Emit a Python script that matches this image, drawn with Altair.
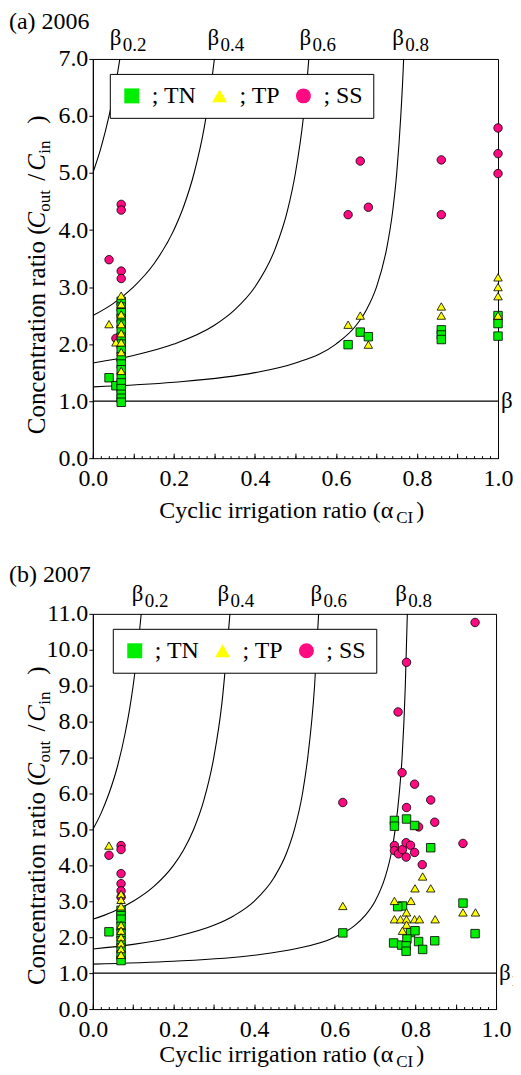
import altair as alt
import pandas as pd

FONT = "Liberation Serif"

# ---------------- theoretical beta curves ----------------
b02_alpha = [0.0, 0.02, 0.04, 0.06, 0.08, 0.09, 0.10, 0.11, 0.12]
b02_ratio = [5.0, 5.44, 6.0, 6.71, 7.67, 8.27, 9.0, 9.89, 11.0]
b04_alpha = [0.0, 0.05, 0.10, 0.15, 0.20, 0.225, 0.25, 0.275, 0.30, 0.32, 0.34]
b04_ratio = [2.5, 2.71, 3.0, 3.4, 4.0, 4.43, 5.0, 5.8, 7.0, 8.5, 11.0]
b06_alpha = [0.0, 0.1, 0.2, 0.3, 0.35, 0.4, 0.45, 0.48, 0.5, 0.52, 0.533, 0.55, 0.56]
b06_ratio = [1.67, 1.8, 2.0, 2.33, 2.6, 3.0, 3.67, 4.33, 5.0, 6.0, 7.0, 9.0, 11.0]
b08_alpha = [0.0, 0.2, 0.4, 0.5, 0.6, 0.65, 0.675, 0.7, 0.725, 0.74, 0.75, 0.76, 0.767, 0.775, 0.78]
b08_ratio = [1.25, 1.33, 1.5, 1.67, 2.0, 2.33, 2.6, 3.0, 3.67, 4.33, 5.0, 6.0, 7.0, 9.0, 11.0]
beta1_ratio = [1.0]

# ---------------- (a) 2006 ----------------
a_tn_alpha = [0.04, 0.057, 0.07, 0.07, 0.07, 0.07, 0.07, 0.07, 0.07, 0.07, 0.07, 0.07,
              0.07, 0.07, 0.07, 0.07, 0.07, 0.07, 0.07, 0.07,
              0.63, 0.66, 0.68, 0.86, 0.86, 0.86, 1.0, 1.0, 1.0]
a_tn_ratio = [1.41, 1.27, 2.75, 2.65, 2.55, 2.45, 2.35, 2.25, 2.12, 2.0, 1.9, 1.78,
              1.65, 1.55, 1.42, 1.32, 1.22, 1.12, 1.05, 0.98,
              1.99, 2.21, 2.13, 2.25, 2.16, 2.08, 2.50, 2.36, 2.14]
a_tp_alpha = [0.04, 0.057, 0.07, 0.07, 0.07, 0.07, 0.07, 0.07, 0.07, 0.07,
              0.63, 0.66, 0.68, 0.86, 0.86, 1.0, 1.0, 1.0, 1.0]
a_tp_ratio = [2.35, 2.03, 2.85, 2.70, 2.52, 2.35, 2.19, 2.03, 1.86, 1.53,
              2.34, 2.50, 1.99, 2.66, 2.50, 3.17, 3.0, 2.84, 2.50]
a_ss_alpha = [0.04, 0.057, 0.07, 0.07, 0.07, 0.07, 0.07, 0.07,
              0.63, 0.66, 0.68, 0.86, 0.86, 1.0, 1.0, 1.0]
a_ss_ratio = [3.48, 2.10, 4.45, 4.35, 3.28, 3.15, 2.05, 1.72,
              4.27, 5.21, 4.40, 5.23, 4.27, 5.79, 5.34, 4.99]

# ---------------- (b) 2007 ----------------
b_tn_alpha = [0.04, 0.07, 0.07, 0.07, 0.07, 0.07, 0.07, 0.07, 0.07, 0.07,
              0.62, 0.748, 0.748, 0.778, 0.798, 0.838, 0.918, 0.768, 0.756, 0.788,
              0.799, 0.746, 0.766, 0.779, 0.777, 0.777, 0.808, 0.818, 0.848, 0.948]
b_tn_ratio = [2.15, 2.75, 2.6, 2.5, 2.3, 2.1, 1.9, 1.7, 1.5, 1.35,
              2.12, 5.25, 5.09, 5.29, 5.11, 4.49, 2.95, 2.87, 2.85, 2.13,
              2.18, 1.84, 1.78, 1.95, 1.76, 1.61, 1.88, 1.66, 1.90, 2.10]
b_tp_alpha = [0.04, 0.07, 0.07, 0.07, 0.07, 0.07, 0.07, 0.07, 0.07, 0.07,
              0.62, 0.818, 0.799, 0.838, 0.748, 0.789, 0.778, 0.748, 0.763, 0.778,
              0.798, 0.81, 0.849, 0.778, 0.768, 0.918, 0.949]
b_tp_ratio = [4.55, 3.20, 3.04, 2.86, 2.34, 2.18, 2.0, 1.83, 1.67, 1.51,
              2.87, 3.69, 3.36, 3.36, 3.01, 3.01, 2.69, 2.50, 2.50, 2.50,
              2.50, 2.50, 2.50, 2.35, 2.18, 2.69, 2.69]
b_ss_alpha = [0.04, 0.07, 0.07, 0.07, 0.07, 0.07, 0.07,
              0.62, 0.778, 0.757, 0.767, 0.798, 0.838, 0.778, 0.848, 0.808, 0.748,
              0.748, 0.758, 0.768, 0.777, 0.788, 0.777, 0.798, 0.817, 0.918, 0.948]
b_ss_ratio = [4.28, 4.55, 4.44, 3.77, 3.49, 3.29, 3.12,
              5.75, 9.65, 8.27, 6.58, 6.26, 5.82, 5.61, 5.2, 5.07, 4.55,
              4.41, 4.32, 4.44, 4.63, 4.56, 4.23, 4.36, 4.02, 4.61, 10.76]

param_names = ["TN", "TP", "SS"]
param_colors = ["#00ee00", "#ffff00", "#ff0a80"]
param_shapes = ["square", "triangle-up", "circle"]

x_major_ticks = [round(i * 0.1, 1) for i in range(11)]
x_minor_ticks = [round(i * 0.02, 2) for i in range(51)]

beta_names = ["0.2", "0.4", "0.6", "0.8"]

curve_rows = []
for nm, xs, ys in zip(beta_names, [b02_alpha, b04_alpha, b06_alpha, b08_alpha],
                      [b02_ratio, b04_ratio, b06_ratio, b08_ratio]):
    for x, y in zip(xs, ys):
        curve_rows.append({"beta": nm, "alpha": x, "ratio": y})
curves_df = pd.DataFrame(curve_rows)


def points_df(tn, tp, ss):
    rows = []
    for nm, (xs, ys) in [("SS", ss), ("TN", tn), ("TP", tp)]:
        for x, y in zip(xs, ys):
            rows.append({"param": nm, "alpha": x, "ratio": y})
    return pd.DataFrame(rows)


ONE = pd.DataFrame({"k": [0]})


def label(s, x, y, size=24, angle=0, italic=False, align="left"):
    kw = dict(text=s, align=align, baseline="alphabetic", font=FONT,
              fontSize=size, color="black")
    if angle:
        kw["angle"] = angle
    if italic:
        kw["fontStyle"] = "italic"
    return alt.Chart(ONE).mark_text(**kw).encode(x=alt.value(x), y=alt.value(y))


def panel(W, H, ymax, title, title_base, pts_df, bx, bbase, legxy, xt_base):
    xscale = alt.Scale(domain=[0, 1], nice=False, zero=False)
    yscale = alt.Scale(domain=[0, ymax], nice=False)
    major = alt.Axis(orient="bottom", values=x_major_ticks, tickSize=5, offset=-5,
                     domain=False, grid=False, title=None,
                     labelExpr="(round(datum.value*10) % 2 == 0) ? format(datum.value, '.1f') : ''",
                     labelFont=FONT, labelFontSize=24, labelColor="black",
                     labelPadding=8, labelFlush=False, labelOverlap=False,
                     tickColor="black")
    minor = alt.Axis(orient="bottom", values=x_minor_ticks, tickSize=2.5, offset=-2.5,
                     domain=False, grid=False, labels=False, title=None,
                     tickColor="black")
    yaxis = alt.Axis(orient="left", values=list(range(ymax + 1)), format=".1f",
                     tickSize=4, tickColor="black", domainColor="black",
                     labelFont=FONT, labelFontSize=24, labelColor="black",
                     labelPadding=1, grid=False, title=None, labelOverlap=False)
    curves = alt.Chart(curves_df).mark_line(
        color="black", strokeWidth=1.1, interpolate="monotone", clip=True
    ).encode(
        x=alt.X("alpha:Q", scale=xscale, axis=major),
        y=alt.Y("ratio:Q", scale=yscale, axis=yaxis),
        detail="beta:N",
    )
    rule = alt.Chart(pd.DataFrame({"ratio": beta1_ratio})).mark_rule(
        color="black", strokeWidth=1.1
    ).encode(y=alt.Y("ratio:Q", scale=yscale, axis=None))
    leg = alt.Legend(orient="none", legendX=legxy[0], legendY=legxy[1],
                     direction="horizontal", title=None,
                     labelExpr="'; ' + datum.label", labelFont=FONT,
                     labelFontSize=24, labelColor="black", symbolSize=225,
                     symbolStrokeColor="black", symbolStrokeWidth=1,
                     fillColor="white", strokeColor="black", padding=10,
                     columnPadding=11, labelOffset=8, symbolOpacity=1)
    pts = alt.Chart(pts_df).mark_point(
        filled=True, size=72, stroke="black", strokeWidth=0.8, opacity=1
    ).encode(
        x=alt.X("alpha:Q", scale=xscale, axis=minor),
        y=alt.Y("ratio:Q", scale=yscale, axis=None),
        fill=alt.Fill("param:N", scale=alt.Scale(domain=param_names, range=param_colors), legend=leg),
        shape=alt.Shape("param:N", scale=alt.Scale(domain=param_names, range=param_shapes), legend=leg),
    )
    texts = [label(title, -84, title_base, size=24)]
    for nm, x0 in zip(beta_names, bx):
        texts.append(label("β", x0, bbase, size=23))
        texts.append(label(nm, x0 + 13, bbase + 6, size=19))
    y1 = H - H / ymax
    texts.append(label("β", W + 3, y1 + 7, size=23))
    texts.append(label("1", W + 15, y1 + 13, size=17))
    # x title with subscript
    texts.append(label("Cyclic irrigation ratio (α", 301, H + xt_base, size=24, align="right"))
    texts.append(label("CI", 304, H + xt_base + 5, size=17))
    texts.append(label(")", 324, H + xt_base, size=24))
    # y title (rotated) with subscripts
    y0 = H - 24
    xb = -48
    texts.append(label("Concentration ratio (", xb, y0, size=25, angle=270))
    texts.append(label("C", xb, y0 - 206, size=25, angle=270, italic=True))
    texts.append(label("out", xb + 5, y0 - 223, size=17, angle=270))
    texts.append(label("/", xb, y0 - 254, size=25, angle=270))
    texts.append(label("C", xb, y0 - 264, size=25, angle=270, italic=True))
    texts.append(label("in", xb + 5, y0 - 281, size=17, angle=270))
    texts.append(label(")", xb, y0 - 311, size=25, angle=270))
    return alt.layer(curves, rule, pts, *texts).resolve_axis(
        x="independent", y="independent"
    ).properties(width=W, height=H)


pa = panel(406, 400, 7, "(a) 2006", -30,
           points_df((a_tn_alpha, a_tn_ratio), (a_tp_alpha, a_tp_ratio), (a_ss_alpha, a_ss_ratio)),
           [17, 115, 207, 300], -14, (17, 15), 60)
pb = panel(404, 396, 11, "(b) 2007", -32,
           points_df((b_tn_alpha, b_tn_ratio), (b_tp_alpha, b_tp_ratio), (b_ss_alpha, b_ss_ratio)),
           [39, 125, 218, 303], -13, (20, 15), 53)

chart = alt.vconcat(pa, pb, spacing=35).resolve_scale(
    fill="independent", shape="independent"
).configure(font=FONT).configure_axis(
    labelFont=FONT, titleFont=FONT
).configure_legend(labelFont=FONT).configure_view(
    stroke="black", strokeWidth=1
).properties(
    padding={"left": 0, "top": 0, "right": -9, "bottom": -2}
)

chart.save("out.html", embed_options={"renderer": "svg", "actions": False})
